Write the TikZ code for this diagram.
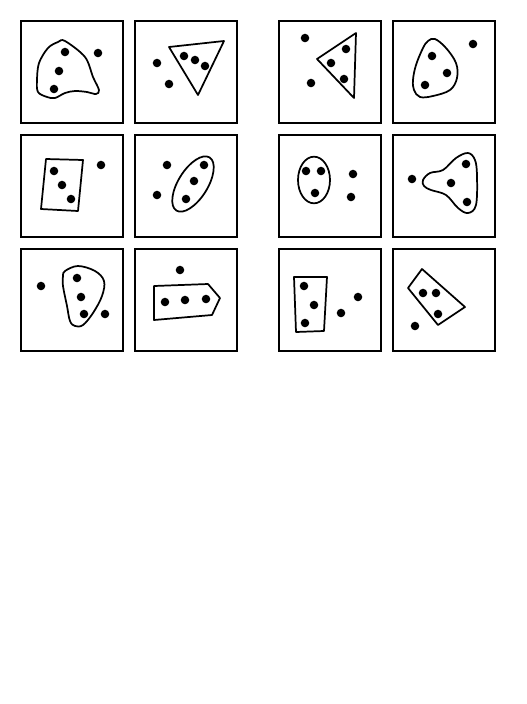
\documentclass[tikz,border=0pt]{standalone}
\usepackage{tikz}
\usetikzlibrary{calc}
\tikzset{
        panel/.style={draw, line width=1.8pt},
        hull/.style={draw, line width=1.3pt, line join=round},
        dot/.style={fill=black},
    }

\begin{document}
\begin{tikzpicture}[x=0.75pt, y=-0.75pt]
        \useasboundingbox (0,0) rectangle (526,704);

        % panel frames
        \foreach \px in {21,135,279,393}
            \foreach \py in {21,135,249}
                \draw[panel] (\px,\py) rectangle ++(102,102);

        % row 1, left: blob
        \draw[hull] plot[smooth cycle, tension=0.55] coordinates {(65,41) (85,57) (93,77) (99,90) (96,94) (87,92) (75,91) (65,93) (55,98) (47,97) (38,92) (37,80) (39,63) (48,48) (58,42)};
        \foreach \p in {(65,52),(59,71),(54,89),(98,53)}
            \fill[dot] \p circle[radius=3.2pt];

        % row 1: triangle
        \draw[hull] (169,47) -- (224,41) -- (198,95) -- cycle;
        \foreach \p in {(184,56),(195,60),(205,66),(157,63),(169,84)}
            \fill[dot] \p circle[radius=3.2pt];

        % row 2: quadrilateral
        \draw[hull] (46,159) -- (83,160) -- (78,211) -- (41,209) -- cycle;
        \foreach \p in {(54,171),(62,185),(71,199),(101,165)}
            \fill[dot] \p circle[radius=3.2pt];

        % row 2: tilted ellipse
        \draw[hull, rotate around={58:(193,184)}] (193,184) ellipse [x radius=23.5pt, y radius=11pt];
        \foreach \p in {(204,165),(194,181),(186,199),(167,165),(157,195)}
            \fill[dot] \p circle[radius=3.2pt];

        % row 3: egg
        \draw[hull] plot[smooth cycle, tension=0.6] coordinates {(65,271) (78,266) (95,271) (104,281) (102,296) (93,313) (83,325) (75,326) (70,321) (67,306) (63,286) (63,276)};
        \foreach \p in {(77,278),(81,297),(84,314),(41,286),(105,314)}
            \fill[dot] \p circle[radius=3.2pt];

        % row 3: pentagon
        \draw[hull] (154,286) -- (208,284) -- (220,298) -- (212,315) -- (154,320) -- cycle;
        \foreach \p in {(165,302),(185,300),(206,299),(180,270)}
            \fill[dot] \p circle[radius=3.2pt];

        % right group, row 1: triangle
        \draw[hull] (356,33) -- (317,59) -- (354,98) -- cycle;
        \foreach \p in {(346,49),(331,63),(344,79),(305,38),(311,83)}
            \fill[dot] \p circle[radius=3.2pt];

        % right group, row 1: egg
        \draw[hull] plot[smooth cycle, tension=0.6] coordinates {(435,39) (446,48) (456,63) (457,78) (450,90) (433,96) (420,97) (414,90) (413,80) (416,65) (423,48) (428,41)};
        \foreach \p in {(432,56),(447,73),(425,85),(473,44)}
            \fill[dot] \p circle[radius=3.2pt];

        % right group, row 2: upright ellipse
        \draw[hull] (314,180) ellipse [x radius=12pt, y radius=17.5pt];
        \foreach \p in {(306,171),(321,171),(315,193),(353,174),(351,197)}
            \fill[dot] \p circle[radius=3.2pt];

        % right group, row 2: three-lobed blob
        \draw[hull] plot[smooth cycle, tension=0.6] coordinates {(423,180) (430,173) (443,170) (456,158) (468,153) (475,160) (477,176) (476,205) (468,213) (458,208) (446,195) (431,190) (424,186)};
        \foreach \p in {(466,164),(451,183),(467,202),(412,179)}
            \fill[dot] \p circle[radius=3.2pt];

        % right group, row 3: quadrilateral
        \draw[hull] (294,277) -- (327,277) -- (324,331) -- (296,332) -- cycle;
        \foreach \p in {(304,286),(314,305),(305,323),(341,313),(358,297)}
            \fill[dot] \p circle[radius=3.2pt];

        % right group, row 3: rotated rectangle
        \draw[hull] (422,269) -- (465,307) -- (438,325) -- (408,288) -- cycle;
        \foreach \p in {(423,293),(436,293),(438,314),(415,326)}
            \fill[dot] \p circle[radius=3.2pt];
    \end{tikzpicture}
\end{document}
